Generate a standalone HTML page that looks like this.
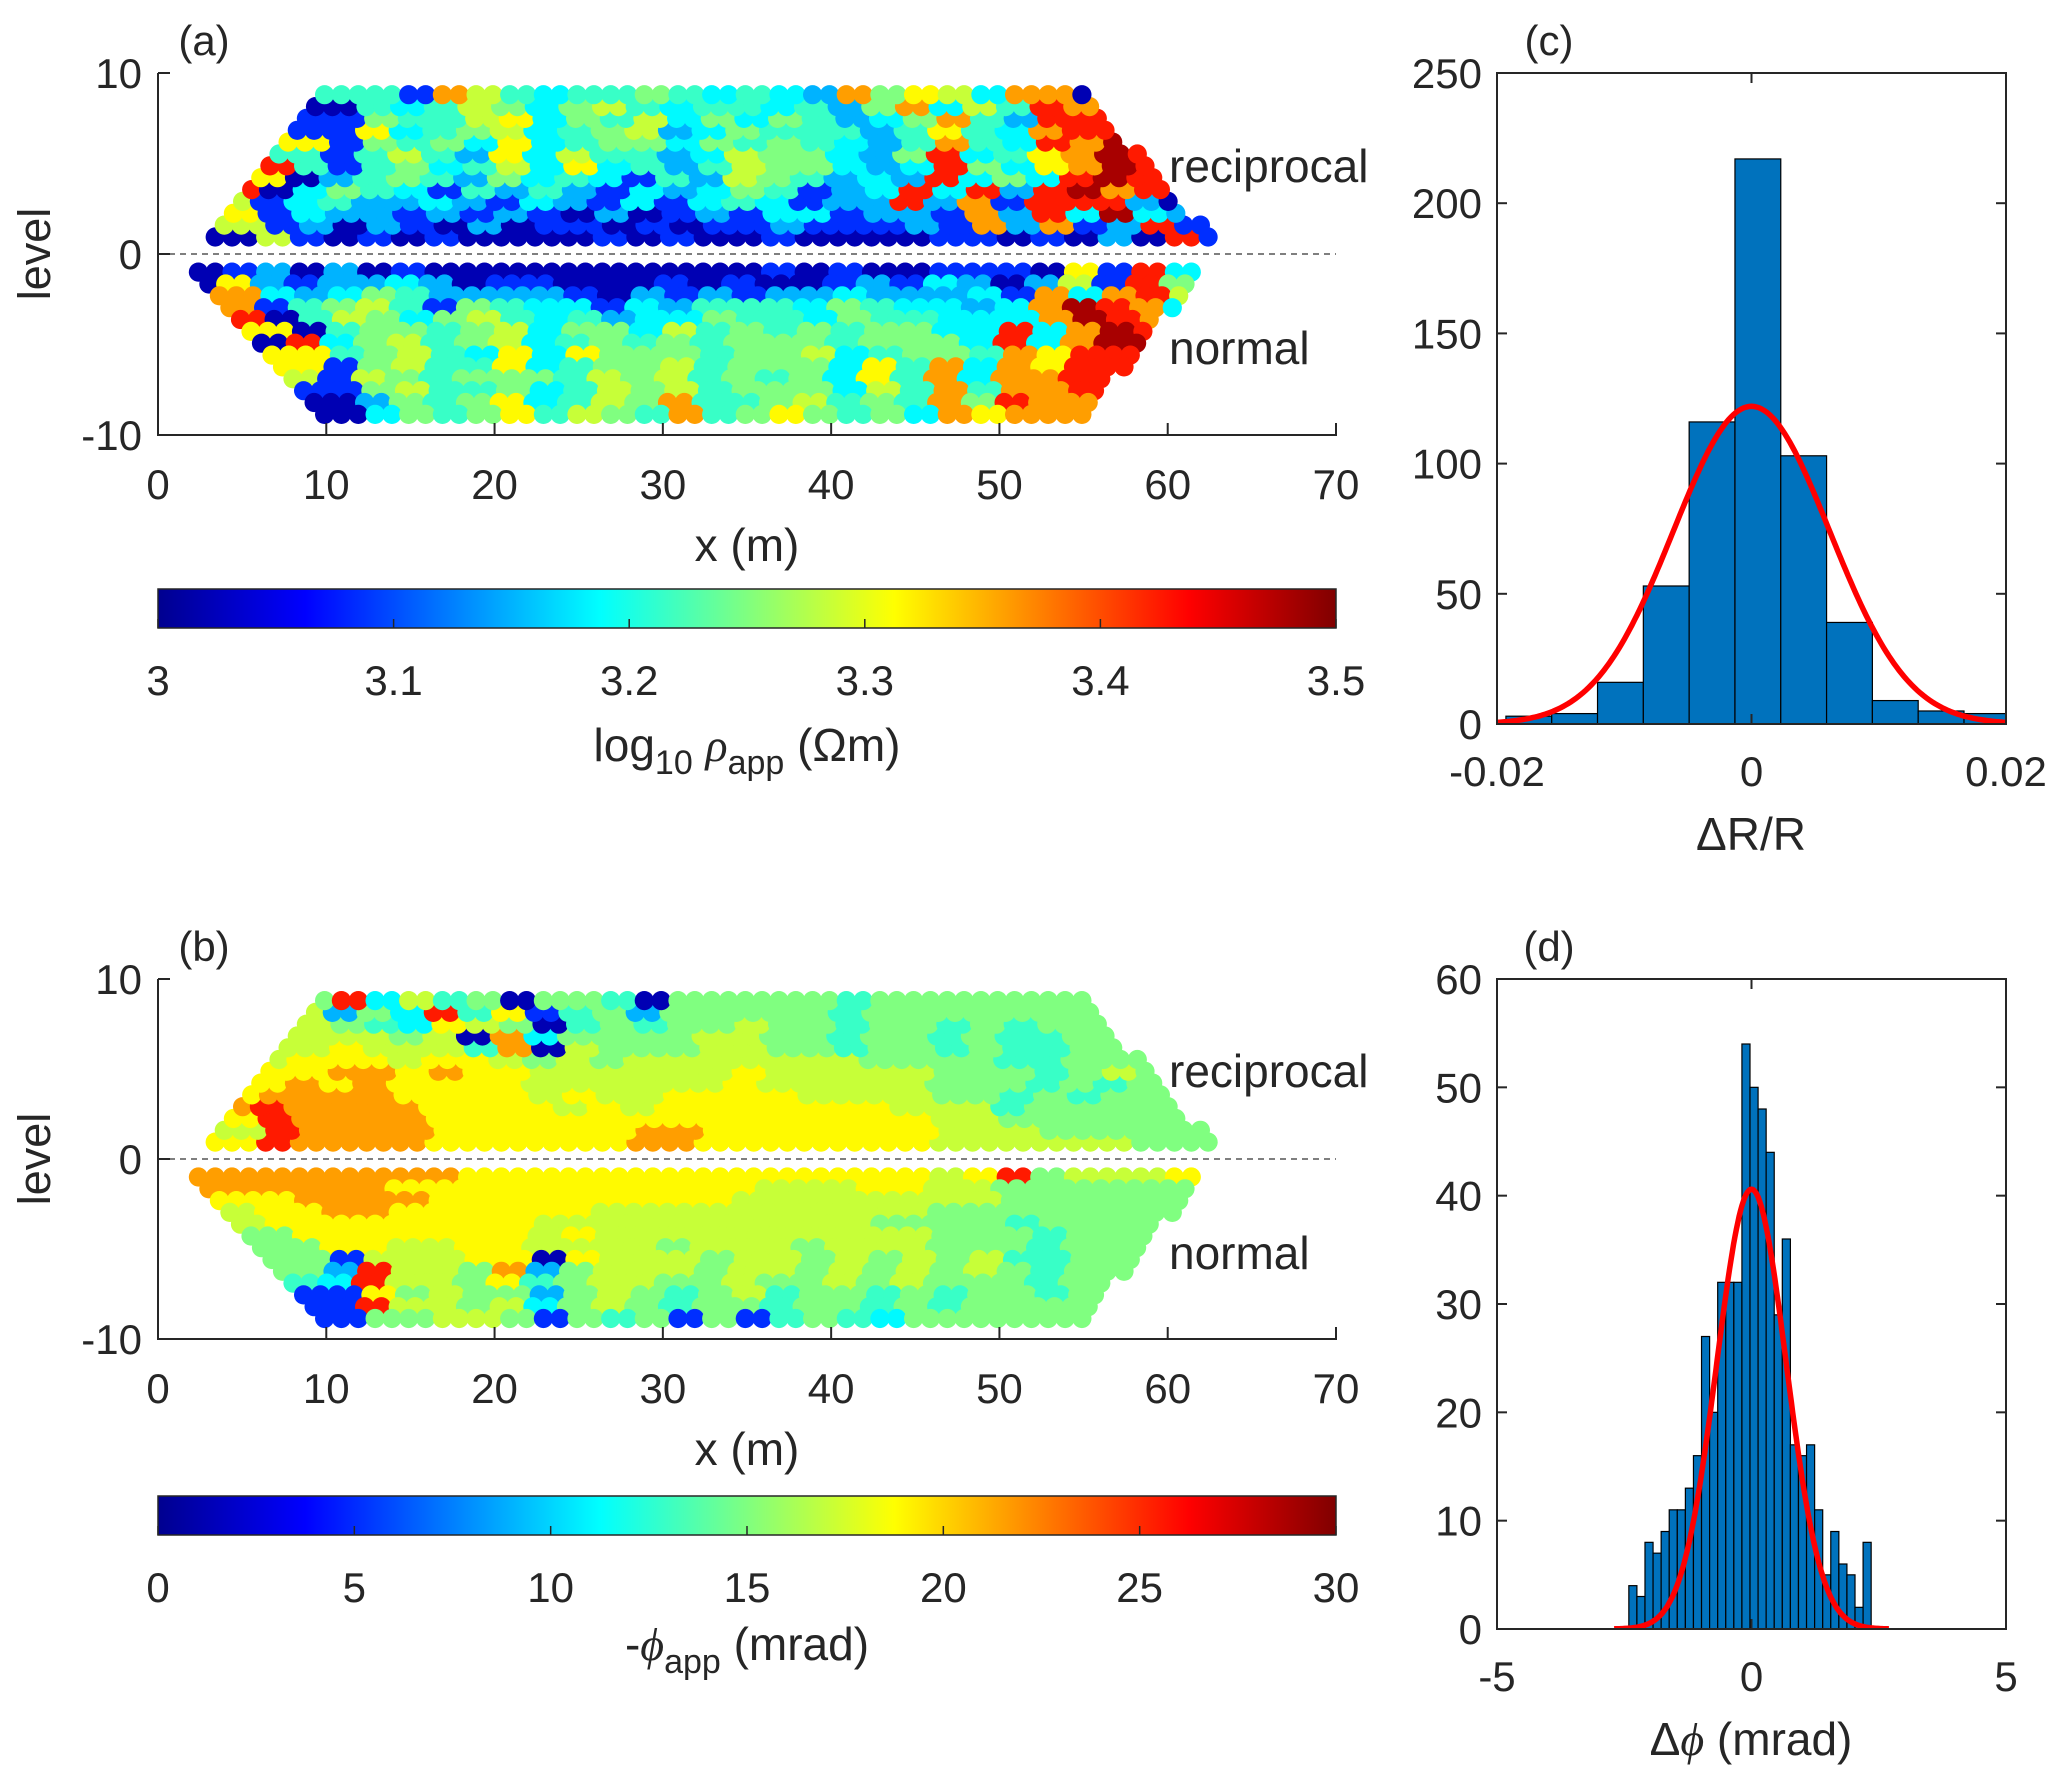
<!DOCTYPE html>
<html><head><meta charset="utf-8"><style>
body{margin:0;background:#fff}
svg{display:block}
text{font-family:"Liberation Sans",Arial,sans-serif;fill:#262626}
</style></head><body>
<svg id="fig" width="2067" height="1782" viewBox="0 0 2067 1782" xmlns="http://www.w3.org/2000/svg">
<defs>
<linearGradient id="jet" x1="0" x2="1" y1="0" y2="0">
<stop offset="0" stop-color="#00008F"/><stop offset="0.125" stop-color="#0000FF"/><stop offset="0.375" stop-color="#00FFFF"/><stop offset="0.625" stop-color="#FFFF00"/><stop offset="0.875" stop-color="#FF0000"/><stop offset="1" stop-color="#800000"/>
</linearGradient>
</defs>
<g id="root"></g>
</svg>
<script>
// ===== Data =====
// (c) histogram of dR/R
const cBinStart = -0.0193;
const cBinWidth = 0.0036;
const cCounts = [3,4,16,53,116,217,103,39,9,5,4];
const cFitPeak = 122;
const cFitSigma = 0.00615;
const cYTicks = [0,50,100,150,200,250];
const cXTicks = [-0.02,0,0.02];
const cXTickLabels = ["-0.02","0","0.02"];
// (d) histogram of dphi
const dBinStart = -2.41;
const dBinWidth = 0.1587;
const dCounts = [4,3,8,7,9,11,11,13,16,27,20,32,32,32,54,50,48,44,29,36,17,16,17,11,5,9,6,5,2,8];
const dFitPeak = 40.6;
const dFitSigma = 0.68;
const dYTicks = [0,10,20,30,40,50,60];
const dXTicks = [-5,0,5];
// pseudosection axes
const psXTicks = [0,10,20,30,40,50,60,70];
const psYTicks = [10,0,-10];
const cbATicks = [3,3.1,3.2,3.3,3.4,3.5];
const cbBTicks = [0,5,10,15,20,25,30];
// pseudosection colour codes (each char = 2 m of x; 0..9,R along jet; '.' = no data)
const aRecip = [
"..06101010000101001000011010209102",
"..6120210201101011211121828129123.",
"..71322121210201213312218293R3200.",
"..613422321321313431229281999200..",
"..9035431424213235412393929R8950..",
"...7024542534314265423293539R98...",
"...9414534637342465532395378R98...",
"....414642736442365532593478R9....",
"....715453734553545432484398R.....",
".....17345634562354442474389......",
".....15446735463535423584299......",
".....04346535643443425836498......",
".....44186434454343285763880......"];
const aNormal = [
".01202010000000000101001110719323.",
".07212232011000101001213202619530.",
"..8323542222102121223222318389620.",
"..8145641543313244435433238R9835..",
"..9046535643423354435443338R983...",
"...7045545635536454545533938R9....",
"...0935645634545455545553938R.....",
"....745643737555455634554879......",
"....715644734556455537483879......",
"....616545554656454537483889......",
".....15644534656455536484889......",
".....02545734658445645485988......",
".....03545746548457545387888......"];
const bRecip = [
"..7988887777778877777776666665555.",
"..6988887777778877777776665555555.",
"..7988887777777777777776655555555.",
"..8988887777676777777766645555555.",
"..7888877776766777766665545455550.",
"...7878777766666676666655545455...",
"...7788787766666676666655545655...",
"...6777677656566666665555445550...",
"....676664806555665545545445......",
"....666560835555665545545445......",
"....654376504545565545545455......",
"....625394714525555545555555......",
"....593645055405555545555555......"];
const bNormal = [
".8888888877777777777777679566670..",
".8888887777777777766677665555550..",
"..7788887777777776666666655555550.",
"..6778877777766666666665555555550.",
"..6777777776666666666555545555500.",
"...5777777767666666666655545555...",
"....577667766665666566655545550...",
"....516667707666566565656445550...",
"....529665825666566565656545......",
"....439665745665565565655545......",
".....17565525654564554545545......",
".....19665635654554554545555......",
".....15566515451514543555555......"];

// ===== helpers =====
const NS="http://www.w3.org/2000/svg";
const root=document.getElementById('root');
function mk(tag,attrs,parent){const e=document.createElementNS(NS,tag);for(const k in attrs)e.setAttribute(k,attrs[k]);(parent||root).appendChild(e);return e;}
function txt(s,x,y,size,anchor,parent){const t=mk('text',{x:x,y:y,'font-size':size,'text-anchor':anchor||'middle'},parent);t.textContent=s;return t;}
function jet(t){
  const c=v=>Math.max(0,Math.min(1,v));
  const r=c(Math.min(4*t-1.5,-4*t+4.5)),g=c(Math.min(4*t-0.5,-4*t+3.5)),b=c(Math.min(4*t+0.5,-4*t+2.5));
  return 'rgb('+Math.round(r*255)+','+Math.round(g*255)+','+Math.round(b*255)+')';
}
const codeT={'0':0.05,'1':0.17,'2':0.3,'3':0.37,'4':0.43,'5':0.5,'6':0.57,'7':0.63,'8':0.72,'9':0.85,'R':0.96};
function codeAt(row,x){
  let i=Math.floor(x/2);
  let first=0,last=row.length-1;
  while(first<row.length&&row[first]==='.')first++;
  while(last>0&&row[last]==='.')last--;
  i=Math.max(first,Math.min(last,i));
  return row[i];
}

// ===== pseudosection panel =====
function pseudo(name,top,bottom,recip,normal,label,cbTop,cbTicks,cbMin,cbMax,cbFmt,cbLabelFn){
  const L=158,R=1336;
  const xs=v=>L+(v-0)/70*(R-L);
  const ys=v=>bottom-(v+10)/20*(bottom-top);
  const g=mk('g',{});
  
  
  const dots=mk('g',{},g);
  
  
  function drawRows(rows,sign,l0,xs0,xs1,xe0,xe1,lTop){
    rows.forEach((row,k)=>{
      const lev=l0+k*0.655;
      const f=(lev-l0)/(lTop-l0);
      const xStart=xs0+(xs1-xs0)*f, xEnd=xe0+(xe1-xe0)*f;
      for(let x=xStart;x<=xEnd+0.01;x+=1.0){
        const ch=codeAt(row,x);
        const c=mk('circle',{cx:xs(x).toFixed(1),cy:ys(sign*lev).toFixed(1),r:9.6,fill:jet(codeT[ch]??0.43)},dots);
        
        
      }
    });
  }
  drawRows(recip,1,0.94,3.4,9.9,62.6,55.1,8.8);
  drawRows(normal,-1,1.0,2.4,9.9,62.1,55.1,8.86);
  const z=mk('line',{x1:L,x2:R,y1:ys(0),y2:ys(0),stroke:'#555','stroke-width':1.5,'stroke-dasharray':'6,5'},g);
  
  
  const ax=mk('path',{d:`M${L},${top} L${L},${bottom} L${R},${bottom} L${R},${bottom-10}`,fill:'none',stroke:'#262626','stroke-width':2},g);
  
  
  psXTicks.forEach(v=>{
    mk('line',{x1:xs(v),x2:xs(v),y1:bottom,y2:bottom-12,stroke:'#262626','stroke-width':2},g);
    const t=txt(String(v),xs(v),bottom+64,42,'middle',g);
    
    
  });
  psYTicks.forEach(v=>{
    mk('line',{x1:L,x2:L+12,y1:ys(v),y2:ys(v),stroke:'#262626','stroke-width':2},g);
    const t=txt(String(v),142,ys(v)+15,42,'end',g);
    
    
  });
  const yl=txt('level',0,0,45,'middle',g);
  yl.setAttribute('transform',`translate(50,${ys(0)}) rotate(-90)`);
  
  
  const xl=txt('x (m)',747,bottom+126,46,'middle',g);
  
  
  const pl=txt(label,204,top-18,42,'middle',g);
  
  
  const r1=txt('reciprocal',1169,ys(0)-72,46,'start',g);
  
  
  const n1=txt('normal',1169,ys(0)+110,46,'start',g);
  
  
  const cb=mk('rect',{x:L,y:cbTop,width:R-L,height:39,fill:'url(#jet)',stroke:'#262626','stroke-width':1.5},g);
  
  
  const cx=v=>L+(v-cbMin)/(cbMax-cbMin)*(R-L);
  cbTicks.forEach(v=>{
    mk('line',{x1:cx(v),x2:cx(v),y1:cbTop+39,y2:cbTop+30,stroke:'#262626','stroke-width':1.5},g);
    const t=txt(cbFmt(v),cx(v),cbTop+106,42,'middle',g);
    
    
  });
  cbLabelFn(g,cbTop+172);
}
pseudo('panel-a',73,435,aRecip,aNormal,'(a)',589,cbATicks,3,3.5,v=>v===3?'3':v.toFixed(1),(g,y)=>{
  const t=mk('text',{x:747,y:y,'font-size':46,'text-anchor':'middle'},g);
  t.innerHTML='log<tspan font-size="34" dy="13">10</tspan><tspan dy="-13"> </tspan><tspan font-family="Liberation Serif" font-style="italic">ρ</tspan><tspan font-size="34" dy="13">app</tspan><tspan dy="-13"> (Ωm)</tspan>';
  
  
});
pseudo('panel-b',979,1339,bRecip,bNormal,'(b)',1496,cbBTicks,0,30,v=>String(v),(g,y)=>{
  const t=mk('text',{x:747,y:y-8,'font-size':46,'text-anchor':'middle'},g);
  t.innerHTML='-<tspan font-family="Liberation Serif" font-style="italic">ϕ</tspan><tspan font-size="34" dy="13">app</tspan><tspan dy="-13"> (mrad)</tspan>';
  
  
});

// ===== histogram panel =====
function hist(name,top,bottom,xmin,xmax,ymax,binStart,binW,counts,peak,sigma,fitRange,yTicks,xTicks,xLabels,label,xTitleHTML){
  const L=1497,R=2006;
  const xs=v=>L+(v-xmin)/(xmax-xmin)*(R-L);
  const ys=v=>bottom-v/ymax*(bottom-top);
  const g=mk('g',{});
  
  
  const clip=mk('clipPath',{id:name+'-clip'},g);
  mk('rect',{x:L,y:top,width:R-L,height:bottom-top},clip);
  const bars=mk('g',{'clip-path':`url(#${name}-clip)`},g);
  counts.forEach((c,i)=>{
    const x0=binStart+i*binW;
    const b=mk('rect',{x:xs(x0),y:ys(c),width:xs(x0+binW)-xs(x0),height:ys(0)-ys(c),fill:'#0072BD',stroke:'#000','stroke-width':1.2},bars);
    
    
  });
  let d='';
  for(let i=0;i<=200;i++){
    const x=fitRange[0]+(fitRange[1]-fitRange[0])*i/200;
    const y=peak*Math.exp(-x*x/(2*sigma*sigma));
    d+=(i?'L':'M')+xs(x).toFixed(1)+','+ys(y).toFixed(1);
  }
  const fit=mk('path',{d:d,fill:'none',stroke:'#FF0000','stroke-width':5.5,'clip-path':`url(#${name}-clip)`},g);
  
  
  const box=mk('rect',{x:L,y:top,width:R-L,height:bottom-top,fill:'none',stroke:'#262626','stroke-width':2},g);
  
  
  yTicks.forEach(v=>{
    mk('line',{x1:L,x2:L+10,y1:ys(v),y2:ys(v),stroke:'#262626','stroke-width':2},g);
    mk('line',{x1:R,x2:R-10,y1:ys(v),y2:ys(v),stroke:'#262626','stroke-width':2},g);
    const t=txt(String(v),1482,ys(v)+15,42,'end',g);
    
    
  });
  xTicks.forEach((v,i)=>{
    mk('line',{x1:xs(v),x2:xs(v),y1:bottom,y2:bottom-10,stroke:'#262626','stroke-width':2},g);
    mk('line',{x1:xs(v),x2:xs(v),y1:top,y2:top+10,stroke:'#262626','stroke-width':2},g);
    const t=txt(xLabels[i],xs(v),bottom+62,42,'middle',g);
    
    
  });
  const pl=txt(label,1549,top-18,42,'middle',g);
  
  
  const xt=mk('text',{x:1751,y:bottom+126,'font-size':46,'text-anchor':'middle'},g);
  xt.innerHTML=xTitleHTML;
  
  
}
hist('panel-c',73,724,-0.02,0.02,250,cBinStart,cBinWidth,cCounts,cFitPeak,cFitSigma,[-0.02,0.02],cYTicks,cXTicks,cXTickLabels,'(c)','ΔR/R');
hist('panel-d',979,1629,-5,5,60,dBinStart,dBinWidth,dCounts,dFitPeak,dFitSigma,[-2.7,2.7],dYTicks,dXTicks,dXTicks.map(String),'(d)','Δ<tspan font-family="Liberation Serif" font-style="italic">ϕ</tspan> (mrad)');
</script>
</body></html>
